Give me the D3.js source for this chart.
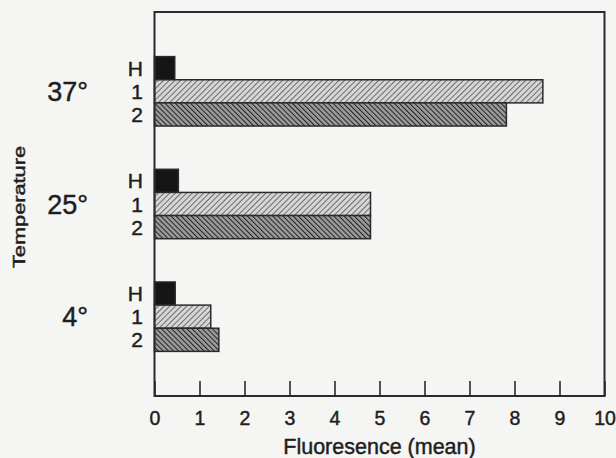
<!DOCTYPE html>
<html>
<head>
<meta charset="utf-8">
<script src="https://cdn.jsdelivr.net/npm/d3@7"></script>
<style>
  html, body { margin: 0; padding: 0; background: #f5f5f3; }
  svg { display: block; }
  text { font-family: "Liberation Sans", Arial, Helvetica, sans-serif; fill: #1e1e1e; stroke: #1e1e1e; stroke-width: 0.45px; }
</style>
</head>
<body>
<svg id="chart" width="616" height="458"></svg>
<script>
// ---- data ----
const groups = ["37°", "25°", "4°"];
const seriesKeys = ["H", "1", "2"];
const valuesH = [0.45, 0.53, 0.46];
const values1 = [8.63, 4.80, 1.25];
const values2 = [7.82, 4.80, 1.43];
const xTicks = [0, 1, 2, 3, 4, 5, 6, 7, 8, 9, 10];
const xLabel = "Fluoresence (mean)";
const yLabel = "Temperature";

const seriesValues = { "H": valuesH, "1": values1, "2": values2 };

const svg = d3.select("#chart");
const frame = { left: 154.5, right: 604.5, top: 12, bottom: 396 };

// patterns
const defs = svg.append("defs");
const p1 = defs.append("pattern").attr("id", "hatch1").attr("patternUnits", "userSpaceOnUse")
  .attr("width", 4).attr("height", 4).attr("patternTransform", "rotate(45)");
p1.append("rect").attr("width", 4).attr("height", 4).attr("fill", "#d6d6d6");
p1.append("line").attr("x1", 0).attr("y1", 0).attr("x2", 0).attr("y2", 4)
  .attr("stroke", "#4a4a4a").attr("stroke-width", 1.5);
const p2 = defs.append("pattern").attr("id", "hatch2").attr("patternUnits", "userSpaceOnUse")
  .attr("width", 3.6).attr("height", 3.6).attr("patternTransform", "rotate(-45)");
p2.append("rect").attr("width", 3.6).attr("height", 3.6).attr("fill", "#9a9a9a");
p2.append("line").attr("x1", 0).attr("y1", 0).attr("x2", 0).attr("y2", 3.6)
  .attr("stroke", "#1e1e1e").attr("stroke-width", 1.9);

const fills = { "H": "#151515", "1": "url(#hatch1)", "2": "url(#hatch2)" };

// scales
const x = d3.scaleLinear().domain([0, 10]).range([frame.left, frame.right]);
const y0 = d3.scaleBand().domain(groups).range([frame.top, frame.bottom])
  .paddingInner(0.384).paddingOuter(0.396);
const y1 = d3.scaleBand().domain(seriesKeys).range([0, y0.bandwidth()]).padding(0);

// bars
const rows = [];
groups.forEach((g, gi) => seriesKeys.forEach(k => rows.push({ g, k, v: seriesValues[k][gi] })));

svg.append("g").selectAll("rect").data(rows).join("rect")
  .attr("x", x(0))
  .attr("y", d => y0(d.g) + y1(d.k))
  .attr("width", d => x(d.v) - x(0))
  .attr("height", y1.bandwidth())
  .attr("fill", d => fills[d.k])
  .attr("stroke", "#2a2a2a")
  .attr("stroke-width", 1.5);

// frame
svg.append("rect")
  .attr("x", frame.left).attr("y", frame.top)
  .attr("width", frame.right - frame.left).attr("height", frame.bottom - frame.top)
  .attr("fill", "none").attr("stroke", "#2a2a2a").attr("stroke-width", 2);

// x axis (ticks inward)
const xAxis = d3.axisBottom(x).tickValues(xTicks).tickFormat(d3.format("d"))
  .tickSize(-15).tickPadding(15);
const gx = svg.append("g").attr("transform", `translate(0,${frame.bottom})`).call(xAxis);
gx.select(".domain").remove();
gx.selectAll(".tick line").attr("stroke", "#2a2a2a").attr("stroke-width", 1.6);
gx.selectAll(".tick text").attr("font-size", 19.5).attr("fill", "#1e1e1e")
  .style("font-family", "'Liberation Sans', Arial, sans-serif");

// series letter labels
svg.append("g").selectAll("text").data(rows).join("text")
  .attr("x", 143)
  .attr("y", d => y0(d.g) + y1(d.k) + y1.bandwidth() / 2)
  .attr("dy", "0.36em")
  .attr("text-anchor", "end")
  .attr("font-size", 21)
  .text(d => d.k);

// group labels
svg.append("g").selectAll("text").data(groups).join("text")
  .attr("x", 88)
  .attr("y", d => y0(d) + y0.bandwidth() / 2)
  .attr("dy", "0.36em")
  .attr("text-anchor", "end")
  .attr("font-size", 27)
  .text(d => d);

// axis titles
svg.append("text")
  .attr("x", (frame.left + frame.right) / 2)
  .attr("y", 454)
  .attr("text-anchor", "middle")
  .attr("font-size", 21.5)
  .text(xLabel);

svg.append("text")
  .attr("transform", `translate(25,207) rotate(-90)`)
  .attr("text-anchor", "middle")
  .attr("font-size", 16)
  .attr("textLength", 122)
  .attr("lengthAdjust", "spacingAndGlyphs")
  .text(yLabel);
</script>
</body>
</html>
